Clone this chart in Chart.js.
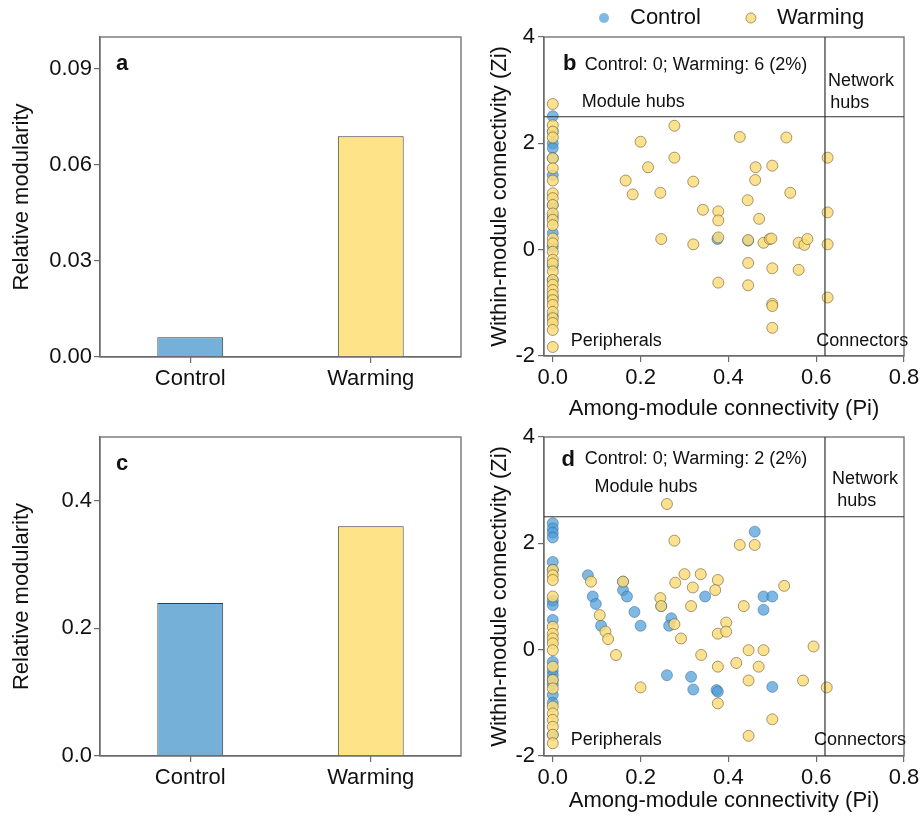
<!DOCTYPE html>
<html>
<head>
<meta charset="utf-8">
<script src="https://cdn.jsdelivr.net/npm/chart.js@4.4.0/dist/chart.umd.min.js"></script>
<style>
  body { margin: 0; background: #fff; width: 924px; height: 822px; overflow: hidden; position: relative; }
  canvas { position: absolute; }
</style>
</head>
<body>
<canvas id="chartA" width="470" height="400" style="left:0;top:0"></canvas>
<canvas id="chartC" width="470" height="422" style="left:0;top:400px"></canvas>
<canvas id="chartB" width="454" height="430" style="left:470px;top:0"></canvas>
<canvas id="chartD" width="454" height="422" style="left:470px;top:400px"></canvas>
<script>
// ---- data ----
const groups = ['Control', 'Warming'];
const modularityA = [0.0062, 0.069];
const modularityC = [0.24, 0.36];
const ticksA = [0, 0.03, 0.06, 0.09];
const ticksC = [0, 0.2, 0.4];
const piTicks = [0, 0.2, 0.4, 0.6, 0.8];
const ziTicks = [-2, 0, 2, 4];
const PI_CUT = 0.62;
const ZI_CUT = 2.5;

// panel b
const bControlPi = [0, 0, 0, 0, 0, 0, 0, 0, 0, 0, 0, 0, 0, 0, 0.375, 0.445];
const bControlZi = [2.51, 2.22, 2.0, 1.91, 1.72, 1.4, 0.84, 0.62, 0.31, 0.05, -0.3, -0.57, -0.9, -1.25, 0.2, 0.17];
const bWarmingPi = [0, 0, 0, 0, 0, 0, 0, 0, 0, 0, 0, 0, 0, 0, 0, 0, 0, 0, 0, 0, 0, 0, 0, 0, 0, 0, 0, 0, 0, 0,
  0.277, 0.2, 0.426, 0.532, 0.277, 0.626, 0.217, 0.462, 0.5, 0.166, 0.32, 0.461, 0.182, 0.245, 0.541, 0.444,
  0.342, 0.377, 0.377, 0.47, 0.626, 0.247, 0.32, 0.377, 0.445, 0.48, 0.494, 0.498, 0.56, 0.573, 0.58, 0.626,
  0.445, 0.5, 0.56, 0.377, 0.445, 0.626, 0.5, 0.5, 0.5];
const bWarmingZi = [2.74, 2.34, 2.22, 2.11, 1.72, 1.53, 1.3, 1.06, 0.97, 0.84, 0.68, 0.56, 0.46, 0.21, 0.12,
  -0.04, -0.19, -0.26, -0.41, -0.57, -0.66, -0.76, -0.85, -0.95, -1.04, -1.17, -1.29, -1.38, -1.51, -1.83,
  2.33, 2.03, 2.12, 2.11, 1.73, 1.73, 1.55, 1.55, 1.58, 1.3, 1.28, 1.31, 1.04, 1.07, 1.07, 0.93,
  0.75, 0.72, 0.55, 0.58, 0.7, 0.2, 0.1, 0.23, 0.18, 0.13, 0.2, 0.21, 0.13, 0.09, 0.2, 0.1,
  -0.25, -0.35, -0.38, -0.62, -0.67, -0.9, -1.02, -1.06, -1.47];

// panel d
const dControlPi = [0, 0, 0, 0, 0, 0, 0, 0, 0, 0, 0, 0, 0, 0, 0, 0, 0,
  0.08, 0.091, 0.098, 0.11, 0.16, 0.16, 0.169, 0.186, 0.2, 0.247, 0.26, 0.27, 0.265, 0.315, 0.32,
  0.347, 0.46, 0.48, 0.5, 0.48, 0.373, 0.376, 0.5];
const dControlZi = [2.38, 2.28, 2.2, 2.11, 1.65, 1.5, 0.92, 0.84, 0.56, -0.23, -0.4, -0.48, -0.57, -0.65, -0.85, -1.0, -1.6,
  1.4, 1.0, 0.86, 0.45, 1.28, 1.12, 1.0, 0.71, 0.45, 0.82, -0.48, 0.59, 0.45, -0.51, -0.75,
  1.0, 2.22, 1.0, 1.0, 0.75, -0.76, -0.79, -0.7];
const dWarmingPi = [0, 0, 0, 0, 0, 0, 0, 0, 0, 0, 0, 0, 0, 0, 0, 0, 0, 0,
  0.26, 0.277, 0.087, 0.107, 0.12, 0.126, 0.144, 0.16, 0.2, 0.245, 0.247, 0.277, 0.279, 0.3, 0.319,
  0.315, 0.337, 0.292, 0.338, 0.426, 0.46, 0.376, 0.37, 0.527, 0.435, 0.395, 0.376, 0.395, 0.446,
  0.48, 0.594, 0.418, 0.376, 0.469, 0.446, 0.57, 0.624, 0.376, 0.5, 0.446];
const dWarmingZi = [1.5, 1.4, 1.31, 1.0, 0.43, 0.3, 0.21, 0.12, -0.01, -0.32, -0.57, -0.73, -1.07, -1.2, -1.32, -1.45, -1.6, -1.76,
  2.74, 2.05, 1.28, 0.65, 0.34, 0.2, -0.1, 1.28, -0.71, 0.97, 0.82, 0.48, 1.26, 1.42, 1.17,
  0.82, 1.42, 0.21, -0.1, 1.97, 1.97, 1.31, 1.12, 1.2, 0.82, 0.51, 0.3, 0.34, -0.01,
  -0.01, 0.06, -0.25, -0.32, -0.32, -0.58, -0.58, -0.71, -1.01, -1.31, -1.62];

// ---- styles ----
const FONT = "'Liberation Sans', Arial, sans-serif";
const AXIS_COLOR = '#6b6b6b';
const TEXT_COLOR = '#111';
const BAR_COLORS = ['#74b0d8', '#fee388'];
const POINT_FILL = ['rgba(78,156,216,0.72)', 'rgba(252,221,125,0.85)'];
const POINT_EDGE = ['rgba(45,95,140,0.6)', 'rgba(105,90,45,0.75)'];

function toPoints(xs, ys) {
    return xs.map((x, i) => ({ x: x, y: ys[i] }));
}

// box around plot area + hub/connector cut-off lines
const framePlugin = {
    id: 'frame',
    afterDatasetsDraw(chart, args, opts) {
        const ctx = chart.ctx;
        const a = chart.chartArea;
        ctx.save();
        ctx.strokeStyle = AXIS_COLOR;
        ctx.lineWidth = 1.3;
        ctx.strokeRect(a.left, a.top, a.right - a.left, a.bottom - a.top);
        if (opts.cutoffs) {
            const xs = chart.scales.x, ys = chart.scales.y;
            ctx.strokeStyle = '#333';
            ctx.lineWidth = 1.2;
            ctx.beginPath();
            const yy = ys.getPixelForValue(ZI_CUT);
            ctx.moveTo(a.left, yy);
            ctx.lineTo(a.right, yy);
            const xx = xs.getPixelForValue(PI_CUT);
            ctx.moveTo(xx, a.top);
            ctx.lineTo(xx, a.bottom);
            ctx.stroke();
        }
        ctx.restore();
    }
};

// panel letters and quadrant labels
const notesPlugin = {
    id: 'notes',
    afterDraw(chart, args, opts) {
        const ctx = chart.ctx;
        const a = chart.chartArea;
        ctx.save();
        ctx.fillStyle = TEXT_COLOR;
        ctx.textBaseline = 'middle';
        ctx.textAlign = 'left';
        (opts.items || []).forEach(it => {
            ctx.font = (it.bold ? 'bold ' : '') + it.size + 'px ' + FONT;
            let x, y;
            if (it.data) {
                x = chart.scales.x.getPixelForValue(it.x);
                y = chart.scales.y.getPixelForValue(it.y);
            } else {
                x = a.left + it.x;
                y = a.top + it.y;
            }
            ctx.fillText(it.text, x, y);
        });
        ctx.restore();
    }
};

// legend row above panel b
const legendPlugin = {
    id: 'topLegend',
    afterDraw(chart, args, opts) {
        if (!opts.show) return;
        const ctx = chart.ctx;
        ctx.save();
        ctx.font = '22px ' + FONT;
        ctx.textBaseline = 'middle';
        let x = chart.chartArea.left + 60;
        const y = 18;
        chart.data.datasets.forEach((ds, i) => {
            ctx.beginPath();
            ctx.arc(x, y, 5, 0, Math.PI * 2);
            ctx.fillStyle = ds.backgroundColor;
            ctx.fill();
            if (i === 1) {
                ctx.strokeStyle = ds.borderColor;
                ctx.lineWidth = 0.8;
                ctx.stroke();
            }
            ctx.fillStyle = TEXT_COLOR;
            ctx.fillText(ds.label, x + 26, y);
            x += 26 + ctx.measureText(ds.label).width + 50;
        });
        ctx.restore();
    }
};

Chart.register(framePlugin, notesPlugin, legendPlugin);

function axisBase() {
    return {
        grid: { display: true, drawOnChartArea: false, drawTicks: true, tickLength: 6, color: AXIS_COLOR, lineWidth: 1.2 },
        border: { display: true, color: AXIS_COLOR, width: 1.3 },
        ticks: { color: TEXT_COLOR, font: { family: FONT, size: 22 }, padding: 2 }
    };
}

function barChart(id, values, yMax, yTicks, digits, letter) {
    const x = axisBase();
    x.grid.offset = false;
    x.ticks.padding = 3;
    x.afterFit = s => { s.height = id === 'chartA' ? 43 : 66; };
    const y = axisBase();
    y.min = 0;
    y.max = yMax;
    y.ticks.callback = v => v.toFixed(digits);
    y.afterBuildTicks = s => { s.ticks = yTicks.map(v => ({ value: v })); };
    y.afterFit = s => { s.width = 100; };
    y.title = { display: true, text: 'Relative modularity', color: TEXT_COLOR, font: { family: FONT, size: 22 }, padding: { top: 9, bottom: 0 } };

    new Chart(document.getElementById(id), {
        type: 'bar',
        data: {
            labels: groups,
            datasets: [{
                data: values,
                backgroundColor: BAR_COLORS,
                borderColor: '#3a3a3a',
                borderWidth: 1,
                barPercentage: 0.365,
                categoryPercentage: 1
            }]
        },
        options: {
            responsive: false,
            animation: false,
            layout: { padding: { top: 37, right: 9, left: 0, bottom: 0 } },
            scales: { x: x, y: y },
            plugins: {
                legend: { display: false },
                tooltip: { enabled: false },
                frame: {},
                notes: { items: [{ text: letter, x: 16, y: 27, size: 22, bold: true }] }
            }
        }
    });
}

function scatterChart(id, ctrlPi, ctrlZi, warmPi, warmZi, notes, xHeight, withLegend) {
    const x = axisBase();
    x.min = -0.02;
    x.max = 0.8;
    x.ticks.callback = v => v.toFixed(1);
    x.ticks.padding = 3;
    x.afterBuildTicks = s => { s.ticks = piTicks.map(v => ({ value: v })); };
    x.afterFit = s => { s.height = xHeight; };
    x.title = { display: true, text: 'Among-module connectivity (Pi)', color: TEXT_COLOR, font: { family: FONT, size: 22 }, padding: { top: 0, bottom: 8 } };
    const y = axisBase();
    y.min = -2;
    y.max = 4;
    y.ticks.padding = 3;
    y.ticks.callback = v => String(v);
    y.afterBuildTicks = s => { s.ticks = ziTicks.map(v => ({ value: v })); };
    y.afterFit = s => { s.width = 74; };
    y.title = { display: true, text: 'Within-module connectivity (Zi)', color: TEXT_COLOR, font: { family: FONT, size: 22 }, padding: { top: 17, bottom: 0 } };

    new Chart(document.getElementById(id), {
        type: 'scatter',
        data: {
            datasets: [{
                label: 'Control',
                data: toPoints(ctrlPi, ctrlZi),
                backgroundColor: POINT_FILL[0],
                borderColor: POINT_EDGE[0],
                borderWidth: 0.8,
                pointRadius: 5.5,
                order: 1
            }, {
                label: 'Warming',
                data: toPoints(warmPi, warmZi),
                backgroundColor: POINT_FILL[1],
                borderColor: POINT_EDGE[1],
                borderWidth: 0.8,
                pointRadius: 5.5,
                order: 0
            }]
        },
        options: {
            responsive: false,
            animation: false,
            layout: { padding: { top: 37, right: 20, left: 0, bottom: 0 } },
            scales: { x: x, y: y },
            plugins: {
                legend: { display: false },
                tooltip: { enabled: false },
                frame: { cutoffs: true },
                notes: { items: notes },
                topLegend: { show: withLegend }
            }
        }
    });
}

barChart('chartA', modularityA, 0.1, ticksA, 2, 'a');
barChart('chartC', modularityC, 0.5, ticksC, 1, 'c');

scatterChart('chartB', bControlPi, bControlZi, bWarmingPi, bWarmingZi, [
    { text: 'b', x: 0.023, y: 3.5, size: 22, bold: true, data: true },
    { text: 'Control: 0; Warming: 6 (2%)', x: 0.073, y: 3.47, size: 18, data: true },
    { text: 'Module hubs', x: 0.066, y: 2.78, size: 18, data: true },
    { text: 'Network', x: 0.627, y: 3.17, size: 18, data: true },
    { text: 'hubs', x: 0.632, y: 2.76, size: 18, data: true },
    { text: 'Peripherals', x: 0.041, y: -1.72, size: 18, data: true },
    { text: 'Connectors', x: 0.6, y: -1.72, size: 18, data: true }
], 74, true);

scatterChart('chartD', dControlPi, dControlZi, dWarmingPi, dWarmingZi, [
    { text: 'd', x: 0.02, y: 3.57, size: 22, bold: true, data: true },
    { text: 'Control: 0; Warming: 2 (2%)', x: 0.073, y: 3.59, size: 18, data: true },
    { text: 'Module hubs', x: 0.095, y: 3.06, size: 18, data: true },
    { text: 'Network', x: 0.636, y: 3.21, size: 18, data: true },
    { text: 'hubs', x: 0.648, y: 2.8, size: 18, data: true },
    { text: 'Peripherals', x: 0.041, y: -1.7, size: 18, data: true },
    { text: 'Connectors', x: 0.595, y: -1.7, size: 18, data: true }
], 66, false);
</script>
</body>
</html>
